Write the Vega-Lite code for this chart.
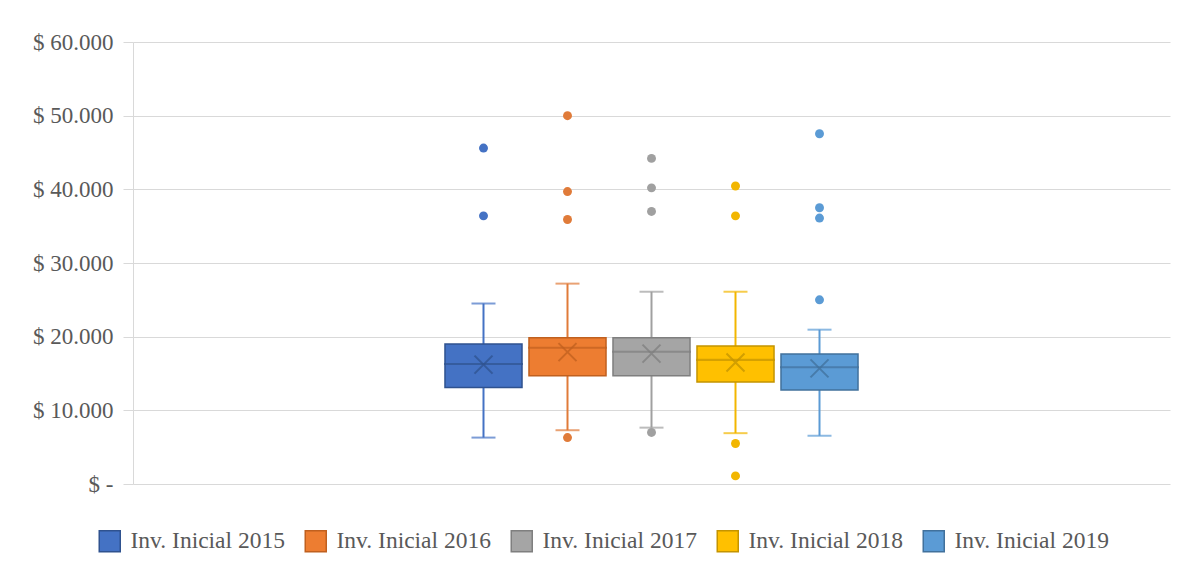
{
  "$schema": "https://vega.github.io/schema/vega-lite/v6.json",
  "width": 1037,
  "height": 442,
  "autosize": {"type": "none"},
  "padding": {"left": 133, "top": 42, "right": 13, "bottom": 97},
  "background": "white",
  "config": {
    "view": {"stroke": null},
    "font": "Liberation Serif",
    "axis": {"labelFont": "Liberation Serif", "labelColor": "#595959"},
    "legend": {"labelFont": "Liberation Serif", "labelColor": "#595959"}
  },
  "datasets": {
    "stats": [
      {"serie": "Inv. Inicial 2015", "low": 6300, "q1": 13100, "median": 16300, "q3": 19000, "high": 24500, "mean": 16200},
      {"serie": "Inv. Inicial 2016", "low": 7300, "q1": 14700, "median": 18500, "q3": 19850, "high": 27200, "mean": 17900},
      {"serie": "Inv. Inicial 2017", "low": 7650, "q1": 14700, "median": 17950, "q3": 19850, "high": 26100, "mean": 17700},
      {"serie": "Inv. Inicial 2018", "low": 6900, "q1": 13850, "median": 16850, "q3": 18750, "high": 26100, "mean": 16500},
      {"serie": "Inv. Inicial 2019", "low": 6550, "q1": 12750, "median": 15850, "q3": 17650, "high": 20950, "mean": 15700}
    ],
    "outliers": [
      {"serie": "Inv. Inicial 2015", "value": 45600},
      {"serie": "Inv. Inicial 2015", "value": 36400},
      {"serie": "Inv. Inicial 2016", "value": 50000},
      {"serie": "Inv. Inicial 2016", "value": 39700},
      {"serie": "Inv. Inicial 2016", "value": 35900},
      {"serie": "Inv. Inicial 2016", "value": 6300},
      {"serie": "Inv. Inicial 2017", "value": 44200},
      {"serie": "Inv. Inicial 2017", "value": 40200},
      {"serie": "Inv. Inicial 2017", "value": 37000},
      {"serie": "Inv. Inicial 2017", "value": 7000},
      {"serie": "Inv. Inicial 2018", "value": 40450},
      {"serie": "Inv. Inicial 2018", "value": 36400},
      {"serie": "Inv. Inicial 2018", "value": 5500},
      {"serie": "Inv. Inicial 2018", "value": 1100},
      {"serie": "Inv. Inicial 2019", "value": 47550},
      {"serie": "Inv. Inicial 2019", "value": 37500},
      {"serie": "Inv. Inicial 2019", "value": 36100},
      {"serie": "Inv. Inicial 2019", "value": 25000}
    ]
  },
  "encoding": {
    "x": {
      "field": "serie",
      "type": "nominal",
      "sort": null,
      "scale": {
        "type": "band",
        "domain": ["_a", "_b", "_c", "Inv. Inicial 2015", "Inv. Inicial 2016", "Inv. Inicial 2017", "Inv. Inicial 2018", "Inv. Inicial 2019", "_d", "_e", "_f"],
        "paddingInner": 0.083,
        "paddingOuter": 0.714
      },
      "axis": null
    }
  },
  "layer": [
    {
      "data": {"name": "stats"},
      "mark": {"type": "rule", "strokeWidth": 2},
      "encoding": {
        "y": {
          "field": "low",
          "type": "quantitative",
          "scale": {"domain": [0, 60000], "nice": false},
          "axis": {
            "title": null,
            "values": [0, 10000, 20000, 30000, 40000, 50000, 60000],
            "labelExpr": "datum.value == 0 ? '$ -' : '$ ' + replace(format(datum.value, ',.0f'), ',', '.')",
            "labelFontSize": 23,
            "labelPadding": 10,
            "tickSize": 10,
            "tickColor": "#D9D9D9",
            "domainColor": "#D9D9D9",
            "gridColor": "#D9D9D9",
            "grid": true
          }
        },
        "y2": {"field": "high"},
        "color": {
          "field": "serie",
          "type": "nominal",
          "scale": {"domain": ["Inv. Inicial 2019", "Inv. Inicial 2018", "Inv. Inicial 2017", "Inv. Inicial 2016", "Inv. Inicial 2015"], "range": ["#5B9BD5", "#F2B600", "#A0A0A0", "#E07B39", "#4472C4"]},
          "legend": null
        }
      }
    },
    {
      "data": {"name": "stats"},
      "mark": {"type": "tick", "size": 24, "thickness": 2},
      "encoding": {
        "y": {"field": "low", "type": "quantitative"},
        "color": {"field": "serie", "type": "nominal", "legend": null}
      }
    },
    {
      "data": {"name": "stats"},
      "mark": {"type": "tick", "size": 24, "thickness": 2},
      "encoding": {
        "y": {"field": "high", "type": "quantitative"},
        "color": {"field": "serie", "type": "nominal", "legend": null}
      }
    },
    {
      "data": {"name": "stats"},
      "mark": {"type": "bar", "strokeWidth": 1.5},
      "encoding": {
        "y": {"field": "q1", "type": "quantitative"},
        "y2": {"field": "q3"},
        "fill": {
          "field": "serie",
          "type": "nominal",
          "scale": {"domain": ["Inv. Inicial 2015", "Inv. Inicial 2016", "Inv. Inicial 2017", "Inv. Inicial 2018", "Inv. Inicial 2019"], "range": ["#4472C4", "#ED7D31", "#A5A5A5", "#FFC000", "#5B9BD5"]},
          "legend": {
            "title": null,
            "orient": "none",
            "legendX": -35,
            "legendY": 487,
            "direction": "horizontal",
            "labelFontSize": 23.5,
            "symbolType": "square",
            "symbolSize": 441,
            "symbolStrokeWidth": 1.5,
            "labelOffset": 9,
            "columnPadding": 17
          }
        },
        "stroke": {
          "field": "serie",
          "type": "nominal",
          "scale": {"domain": ["Inv. Inicial 2015", "Inv. Inicial 2016", "Inv. Inicial 2017", "Inv. Inicial 2018", "Inv. Inicial 2019"], "range": ["#2F528F", "#C0601F", "#7F7F7F", "#C49400", "#41719C"]},
          "legend": {
            "title": null,
            "orient": "none",
            "legendX": -35,
            "legendY": 487,
            "direction": "horizontal",
            "labelFontSize": 23.5,
            "symbolType": "square",
            "symbolSize": 441,
            "symbolStrokeWidth": 1.5,
            "labelOffset": 9,
            "columnPadding": 17
          }
        }
      }
    },
    {
      "data": {"name": "stats"},
      "mark": {"type": "tick", "size": 77, "thickness": 0.01, "filled": false, "strokeWidth": 2},
      "encoding": {
        "y": {"field": "median", "type": "quantitative"},
        "stroke": {"field": "serie", "type": "nominal"}
      }
    },
    {
      "data": {"name": "stats"},
      "mark": {"type": "point", "shape": "M-1,-1L1,1M-1,1L1,-1", "filled": false, "size": 324, "strokeWidth": 2, "opacity": 0.75},
      "encoding": {
        "y": {"field": "mean", "type": "quantitative"},
        "stroke": {"field": "serie", "type": "nominal"}
      }
    },
    {
      "data": {"name": "outliers"},
      "mark": {"type": "circle", "size": 80, "opacity": 1},
      "encoding": {
        "y": {"field": "value", "type": "quantitative"},
        "color": {"field": "serie", "type": "nominal", "legend": null}
      }
    }
  ]
}
